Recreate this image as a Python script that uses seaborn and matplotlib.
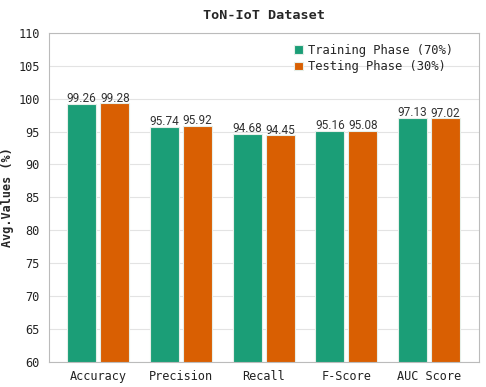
import pandas as pd
import seaborn as sns
import matplotlib
matplotlib.use("Agg")
import matplotlib.pyplot as plt

metrics = ["Accuracy", "Precision", "Recall", "F-Score", "AUC Score"]
phases = ["Training Phase (70%)", "Testing Phase (30%)"]
train_vals = [99.26, 95.74, 94.68, 95.16, 97.13]
test_vals = [99.28, 95.92, 94.45, 95.08, 97.02]

df = pd.DataFrame({
    "metric": metrics * 2,
    "phase": [phases[0]] * 5 + [phases[1]] * 5,
    "value": train_vals + test_vals,
})

sns.set_theme(style="whitegrid")
plt.rcParams["font.family"] = ["DejaVu Sans Mono"]

fig, ax = plt.subplots(figsize=(4.86, 3.87), dpi=100)
colors = ["#1b9e77", "#d95f02"]
sns.barplot(data=df, x="metric", y="value", hue="phase", palette=colors,
            saturation=1, width=0.8, gap=0.12, edgecolor="#e6efe9",
            linewidth=0.8, ax=ax)

for cont in ax.containers:
    ax.bar_label(cont, fmt="%.2f", padding=-1, fontsize=8.5, color="#333333",
                 family="Roboto")

ax.set_xlim(-0.6, 4.6)
ax.set_ylim(60, 110)
ax.set_yticks(range(60, 111, 5))
ax.set_xlabel("")
ax.set_ylabel("Avg.Values (%)", fontsize=8.5, fontweight="bold", labelpad=3)
ax.set_title("ToN-IoT Dataset", fontsize=9.7, fontweight="bold", pad=10)
ax.tick_params(axis="both", labelsize=8.6, colors="#222222", length=3)
ax.tick_params(axis="x", pad=3)
ax.grid(axis="x", visible=False)
ax.grid(axis="y", color="#e3e3e3", linewidth=0.8)
for s in ax.spines.values():
    s.set_color("#bbbbbb")
    s.set_linewidth(0.8)

ax.legend(loc="upper right", frameon=False, fontsize=8.7, handlelength=0.7,
          handleheight=0.7, handletextpad=0.4, borderaxespad=0.5, labelspacing=0.3,
          bbox_to_anchor=(0.965, 1.0))

fig.subplots_adjust(left=0.10, right=0.985, top=0.915, bottom=0.065)
fig.savefig("out.png", dpi=100)
